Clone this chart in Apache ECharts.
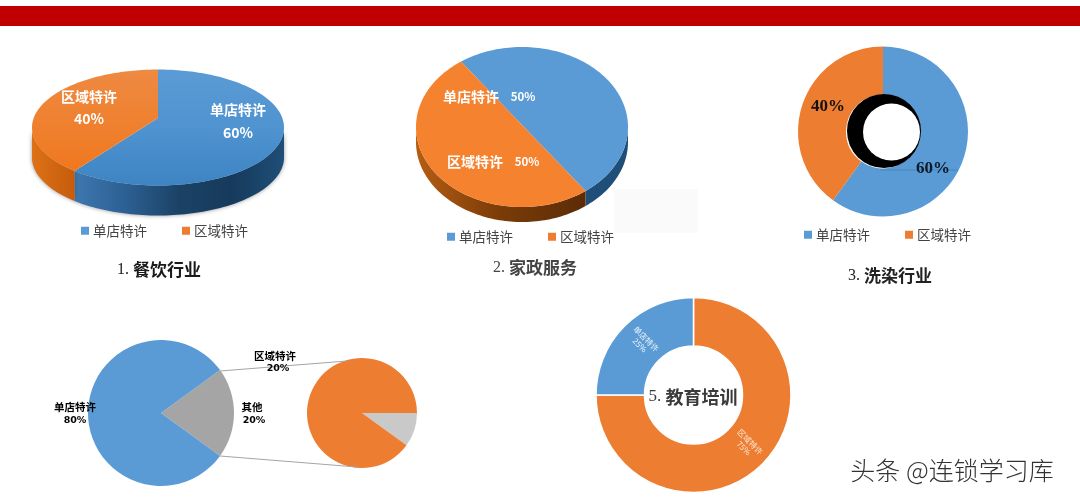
<!DOCTYPE html>
<html>
<head>
<meta charset="utf-8">
<style>html,body{margin:0;padding:0;background:#fff}#c{width:1080px;height:499px}</style>
<script src="https://cdn.jsdelivr.net/npm/echarts@6/dist/echarts.min.js"></script>
</head>
<body>
<div id="c"></div>
<script>
const catSingle = '单店特许';
const catRegion = '区域特许';
const catOther = '其他';
const legendCats = [catSingle, catRegion];
const cateringValues = [60, 40];
const housekeepingValues = [50, 50];
const laundryValues = [60, 40];
const otherMainValues = [20, 80];
const otherSubValues = [10, 90];
const otherShown = [20, 20, 80];
const educationValues = [75, 25];
const titles = ['1.', '餐饮行业', '2.', '家政服务', '3.', '洗染行业', '5.', '教育培训'];
const watermark = '头条 @连锁学习库';

const BLUE = '#5b9bd5', ORANGE = '#ed7d31', GRAY = '#a5a5a5', LGRAY = '#c9c9c9';
const LG = (stops, horiz) => new echarts.graphic.LinearGradient(0, 0, horiz ? 1 : 0, horiz ? 0 : 1,
  stops.map((c, i) => ({ offset: i / (stops.length - 1), color: c })));
const FONT = '"Noto Sans CJK SC","Noto Sans",sans-serif';
const SERIF = '"Liberation Serif",serif';

function arc(p, a0, a1) {
  const pts = [], n = Math.max(8, Math.ceil(Math.abs(a1 - a0) / 1.5));
  const vo = (p.vy - p.cy) / p.ry, vx = p.vx === undefined ? p.cx : p.vx;
  for (let i = 0; i <= n; i++) {
    const a = (a0 + (a1 - a0) * i / n) * Math.PI / 180, dx = Math.sin(a), dy = -Math.cos(a);
    const t = -vo * dy + Math.sqrt(vo * vo * dy * dy - vo * vo + 1);
    pts.push([p.cx + p.rx * dx * t, p.cy + p.ry * (vo + dy * t)]);
  }
  return pts;
}
function tilted(name, values, p, part) {
  const total = values.reduce((a, b) => a + b, 0);
  return {
    type: 'custom', name: name, coordinateSystem: 'none', animation: false, silent: true,
    data: values.map((v, i) => ({ name: legendCats[i], value: v })),
    renderItem: function (params) {
      const i = params.dataIndex;
      let s = p.start;
      for (let k = 0; k < i; k++) s += p.sweepOrder[k];
      const order = p.order[i];
      let st = p.start;
      for (let k = 0; k < order; k++) st += values[p.order.indexOf(k)] / total * 360;
      const en = st + values[i] / total * 360;
      const pts = arc(p, st, en);
      const vx = p.vx === undefined ? p.cx : p.vx;
      if (part === 'top') {
        return { type: 'polygon', shape: { points: [[vx, p.vy]].concat(pts) },
          style: { fill: p.top[i] } };
      }
      const low = pts.filter(q => q[1] >= p.cy);
      if (low.length < 2) return { type: 'group', children: [] };
      const wall = low.concat(low.slice().reverse().map(q => [q[0], q[1] + p.depth]));
      return { type: 'polygon', shape: { points: wall },
        style: { fill: p.wall[i], shadowBlur: p.shadow, shadowColor: 'rgba(60,60,60,0.55)' } };
    }
  };
}
const pie1 = { cx: 158, cy: 127.5, rx: 126, ry: 58, vy: 118, depth: 30, start: 0, order: [0, 1], sweepOrder: [0, 0], shadow: 4,
  top: [LG(['#5b9bd5', '#4f93d0', '#3e84c3']), LG(['#ee8a42', '#f0781f'])],
  wall: [LG(['#3d78b0', '#2c5f92', '#1b4265', '#163a5c', '#1f4e78'], true), LG(['#de7117', '#c65c0b'], true)] };
const pie2 = { cx: 522, cy: 127, rx: 106, ry: 80, vy: 125, depth: 15, start: -36, order: [0, 1], sweepOrder: [0, 0], shadow: 0,
  top: ['#5b9bd5', '#f5822e'],
  wall: ['#1f4e79', LG(['#b55d12', '#7a3b08', '#5c2c06'], true)] };

function pie(name, center, radius, startAngle, items, border) {
  return {
    type: 'pie', name: name, center: center, radius: radius, startAngle: startAngle, clockwise: true,
    animation: false, silent: true, label: { show: false }, labelLine: { show: false },
    itemStyle: border ? { borderColor: '#fff', borderWidth: 1.5 } : {},
    data: items
  };
}
const item = (n, v, c) => ({ name: n, value: v, itemStyle: { color: c } });

const series = [
  pie('洗染行业', [883, 131.5], [37, 85], 90, [item(catSingle, laundryValues[0], BLUE), item(catRegion, laundryValues[1], ORANGE)]),
  pie('其他细分', [161, 413], [0, 73], 36, [item(catOther, otherMainValues[0], GRAY), item(catSingle, otherMainValues[1], BLUE)]),
  pie('其他细分子图', [362, 413], [0, 55], 0, [item(catOther, otherSubValues[0], LGRAY), item(catRegion, otherSubValues[1], ORANGE)]),
  pie('教育培训', [693.5, 395], [49, 97.5], 90, [item(catRegion, educationValues[0], ORANGE), item(catSingle, educationValues[1], BLUE)], true),
  tilted('餐饮行业侧面', cateringValues, pie1, 'wall'),
  tilted('餐饮行业', cateringValues, pie1, 'top'),
  tilted('家政服务侧面', housekeepingValues, pie2, 'wall'),
  tilted('家政服务', housekeepingValues, pie2, 'top')
];

function T(x, y, text, size, fill, opt) {
  opt = opt || {};
  return { type: 'text', x: x, y: y, z: 30, rotation: opt.rot || 0,
    style: { text: text, fill: fill, align: 'center', verticalAlign: 'middle',
      font: (opt.weight || 'bold') + ' ' + size + 'px ' + (opt.family || FONT), lineHeight: opt.lh } };
}
function titleText(x, y, num, word, color, size) {
  return { type: 'text', x: x, y: y, z: 30,
    style: { text: '{a|' + num + ' }{b|' + word + '}', align: 'center', verticalAlign: 'middle',
      rich: { a: { font: '500 ' + (size - 1) + 'px ' + SERIF, fill: color },
              b: { font: 'bold ' + size + 'px ' + FONT, fill: color } } } };
}
const pct = v => v + '%';
const line = (x1, y1, x2, y2, c) => ({ type: 'line', z: 5, shape: { x1, y1, x2, y2 }, style: { stroke: c, lineWidth: 1 } });

const elements = [
  { type: 'rect', z: 1, shape: { x: 0, y: 6, width: 1080, height: 20 }, style: { fill: '#c00000' } },
  { type: 'rect', z: 1, shape: { x: 614, y: 189, width: 84, height: 44 }, style: { fill: '#fafafa' } },
  // 餐饮
  T(238, 110, catSingle, 14, '#fff'), T(238, 133, pct(cateringValues[0]), 14, '#fff'),
  T(89, 97, catRegion, 14, '#fff'), T(89, 119, pct(cateringValues[1]), 14, '#fff'),
  // 家政
  T(471, 97, catSingle, 14, '#fff'), T(523, 97, pct(housekeepingValues[0]), 11.5, '#fff'),
  T(475, 162, catRegion, 14, '#fff'), T(527, 162, pct(housekeepingValues[1]), 11.5, '#fff'),
  // 洗染
  { type: 'circle', z: 6, shape: { cx: 884, cy: 131, r: 37 }, style: { fill: '#000' } },
  { type: 'circle', z: 7, shape: { cx: 891.5, cy: 132, r: 28.5 }, style: { fill: '#fff' } },
  line(880, 170, 958, 170, '#4a86b8'),
  T(828, 107, pct(laundryValues[1]), 17, '#111', { family: SERIF }),
  T(933, 169, pct(laundryValues[0]), 17, '#0b1a2a', { family: SERIF }),
  // 子母饼
  line(220, 371, 347, 361, GRAY), line(220, 456, 357, 467, GRAY),
  T(75, 407, catSingle, 10.5, '#000'), T(75, 421, pct(otherShown[2]), 9.5, '#000', { family: '"DejaVu Sans",sans-serif' }),
  T(252, 407, catOther, 10.5, '#000'), T(254, 421, pct(otherShown[1]), 9.5, '#000', { family: '"DejaVu Sans",sans-serif' }),
  T(275, 356, catRegion, 10.5, '#000'), T(278, 369, pct(otherShown[0]), 9.5, '#000', { family: '"DejaVu Sans",sans-serif' }),
  // 教育
  T(643, 342, catSingle + '\n' + pct(educationValues[1]), 8, '#eaf3fb', { weight: 'normal', rot: -Math.PI / 4, lh: 9 }),
  T(747, 445, catRegion + '\n' + pct(educationValues[0]), 8, '#fde7d6', { weight: 'normal', rot: -Math.PI / 4, lh: 9 }),
  // titles
  titleText(159, 270, titles[0], titles[1], '#1a1a1a', 17),
  titleText(535, 268, titles[2], titles[3], '#444', 17),
  titleText(890, 276, titles[4], titles[5], '#222', 17),
  titleText(693, 397, titles[6], titles[7], '#3a3a3a', 18),
  // watermark
  { type: 'text', x: 952, y: 470, z: 30, style: { text: watermark, align: 'center', verticalAlign: 'middle',
      font: '300 25px ' + FONT, fill: '#333', shadowBlur: 0, shadowColor: '#999', shadowOffsetX: 1, shadowOffsetY: 1 } }
];

function legend(left, top) {
  return { data: legendCats, left: left, top: top, icon: 'rect', itemWidth: 8, itemHeight: 8, itemGap: 35,
    selectedMode: false, padding: 0, textStyle: { fontSize: 13.5, color: '#444', fontFamily: FONT, padding: [0, 0, 0, -1] } };
}

const chart = echarts.init(document.getElementById('c'), null, { renderer: 'canvas' });
chart.setOption({
  backgroundColor: '#fff',
  animation: false,
  legend: [legend(81, 224), legend(447, 230), legend(804, 228)],
  series: series,
  graphic: { elements: elements }
});
</script>
</body>
</html>
